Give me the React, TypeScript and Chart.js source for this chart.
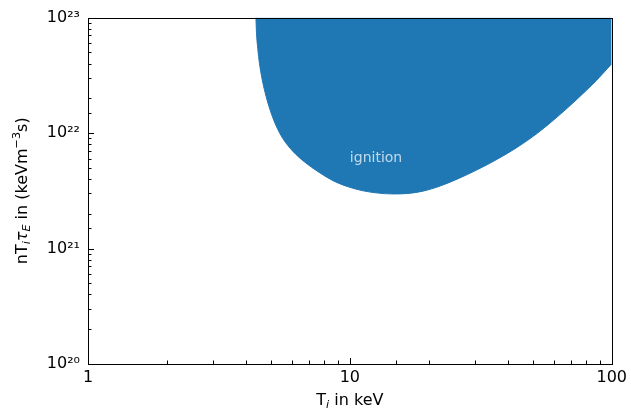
import { useEffect, useRef } from "react";
import { Chart, registerables } from "chart.js";

Chart.register(...registerables);

// Ion temperature (keV) along the ignition boundary
const temperatureKeV = [
  4.378, 4.401, 4.448, 4.515, 4.614, 4.749, 4.927, 5.193, 5.543, 6.05, 6.721, 7.595, 8.659, 9.87, 11.25,
  12.83, 14.63, 16.67, 19.01, 21.67, 25.81, 30.74, 36.61, 43.6, 51.93, 61.85, 73.66, 87.72, 100,
];
// Triple product nTτ_E (keV m^-3 s) on the ignition boundary
const ignitionTripleProduct = [
  1.0e23, 7.29e22, 5.42e22, 4.03e22, 3.0e22, 2.23e22, 1.66e22, 1.2e22, 9.0e21, 6.97e21, 5.61e21, 4.6e21,
  3.85e21, 3.42e21, 3.16e21, 3.02e21, 2.97e21, 3.0e21, 3.14e21, 3.42e21, 4.01e21, 4.83e21, 5.95e21, 7.54e21,
  9.94e21, 1.376e22, 1.963e22, 2.88e22, 3.99e22,
];

const xLimits = [1, 100];
const yLimits = [1e20, 1e23];
const xTickLabels = ["1", "10", "100"];
const yTickLabels = ["10²⁰", "10²¹", "10²²", "10²³"];

const regionLabel = "ignition";
const regionLabelAt = { x: 10, y: 5.6e21 };

const FONT = '"DejaVu Sans"';
const BLUE = "#1f77b4";

function isPow10(v: number) {
  const e = Math.log10(v);
  return Math.abs(e - Math.round(e)) < 1e-9;
}

type Seg = { t: string; scale?: number; italic?: boolean; dy?: number };

function drawRich(ctx: CanvasRenderingContext2D, segs: Seg[], x: number, y: number, base: number) {
  const font = (s: Seg) => `${s.italic ? "italic " : ""}${base * (s.scale ?? 1)}px ${FONT}`;
  let w = 0;
  segs.forEach((s) => {
    ctx.font = font(s);
    w += ctx.measureText(s.t).width;
  });
  let cx = x - w / 2;
  ctx.textAlign = "left";
  ctx.textBaseline = "alphabetic";
  segs.forEach((s) => {
    ctx.font = font(s);
    ctx.fillText(s.t, cx, y + (s.dy ?? 0) * base);
    cx += ctx.measureText(s.t).width;
  });
}

const decorations = {
  id: "decorations",
  afterDatasetsDraw(chart: any) {
    const { ctx, scales } = chart;
    ctx.save();
    ctx.fillStyle = "rgba(255,255,255,0.72)";
    ctx.font = `14px ${FONT}`;
    ctx.textAlign = "left";
    ctx.textBaseline = "alphabetic";
    ctx.fillText(regionLabel, scales.x.getPixelForValue(regionLabelAt.x), scales.y.getPixelForValue(regionLabelAt.y));
    ctx.restore();
  },
  afterDraw(chart: any) {
    const { ctx, chartArea: a, scales } = chart;
    ctx.save();
    ctx.strokeStyle = "#000";
    ctx.lineWidth = 1;
    const xs = scales.x;
    xs.ticks.forEach((t: any) => {
      const px = Math.round(xs.getPixelForValue(t.value)) + 0.5;
      const len = isPow10(t.value) ? 6 : 3.5;
      ctx.beginPath();
      ctx.moveTo(px, a.bottom);
      ctx.lineTo(px, a.bottom - len);
      ctx.stroke();
    });
    const ys = scales.y;
    ys.ticks.forEach((t: any) => {
      const py = Math.round(ys.getPixelForValue(t.value)) + 0.5;
      const len = isPow10(t.value) ? 6 : 3.5;
      ctx.beginPath();
      ctx.moveTo(a.left, py);
      ctx.lineTo(a.left + len, py);
      ctx.stroke();
    });
    ctx.strokeRect(Math.round(a.left) + 0.5, Math.round(a.top) + 0.5, Math.round(a.right - a.left), Math.round(a.bottom - a.top));

    ctx.fillStyle = "#000";
    drawRich(
      ctx,
      [{ t: "T" }, { t: "i", scale: 0.7, italic: true, dy: 0.2 }, { t: " in keV" }],
      (a.left + a.right) / 2,
      405,
      16
    );
    ctx.translate(27, (a.top + a.bottom) / 2);
    ctx.rotate(-Math.PI / 2);
    drawRich(
      ctx,
      [
        { t: "nT" },
        { t: "i", scale: 0.7, italic: true, dy: 0.2 },
        { t: "τ", italic: true },
        { t: "E", scale: 0.7, italic: true, dy: 0.2 },
        { t: " in (keVm" },
        { t: "−3", scale: 0.7, dy: -0.45 },
        { t: "s)" },
      ],
      0,
      0,
      16
    );
    ctx.restore();
  },
};

export default function App() {
  const ref = useRef<HTMLCanvasElement | null>(null);
  useEffect(() => {
    document.body.style.margin = "0";
    const canvas = ref.current!;
    const data = temperatureKeV.map((x, i) => ({ x, y: ignitionTripleProduct[i] }));
    const chart = new Chart(canvas, {
      type: "line",
      data: {
        datasets: [
          {
            label: regionLabel,
            data,
            borderColor: BLUE,
            backgroundColor: BLUE,
            borderWidth: 1,
            pointRadius: 0,
            fill: "end",
            cubicInterpolationMode: "monotone",
          },
        ],
      },
      options: {
        responsive: false,
        animation: false,
        devicePixelRatio: 1,
        layout: { padding: { top: 14, right: 16, left: 0, bottom: 0 } },
        plugins: { legend: { display: false }, tooltip: { enabled: false } },
        scales: {
          x: {
            type: "logarithmic",
            min: xLimits[0],
            max: xLimits[1],
            grid: { display: false, drawTicks: false },
            border: { display: false },
            ticks: {
              autoSkip: false,
              maxRotation: 0,
              padding: 4,
              color: "#000",
              font: { family: "DejaVu Sans", size: 16 },
              callback: (v: any) => {
                const n = Number(v);
                if (!isPow10(n)) return "";
                const idx = Math.round(Math.log10(n) - Math.log10(xLimits[0]));
                return xTickLabels[idx] ?? "";
              },
            },
            afterFit: (s: any) => {
              s.height = 51;
            },
          },
          y: {
            type: "logarithmic",
            min: yLimits[0],
            max: yLimits[1],
            grid: { display: false, drawTicks: false },
            border: { display: false },
            ticks: {
              autoSkip: false,
              padding: 8,
              color: "#000",
              font: { family: "DejaVu Sans", size: 16 },
              callback: (v: any) => {
                const n = Number(v);
                if (!isPow10(n)) return "";
                const idx = Math.round(Math.log10(n) - Math.log10(yLimits[0]));
                return yTickLabels[idx] ?? "";
              },
            },
            afterFit: (s: any) => {
              s.width = 88;
            },
          },
        },
      },
      plugins: [decorations],
    } as any);
    return () => chart.destroy();
  }, []);
  return (
    <div style={{ position: "absolute", left: 0, top: 0, width: 631, height: 415, background: "#fff" }}>
      <canvas ref={ref} width={631} height={415} />
    </div>
  );
}
